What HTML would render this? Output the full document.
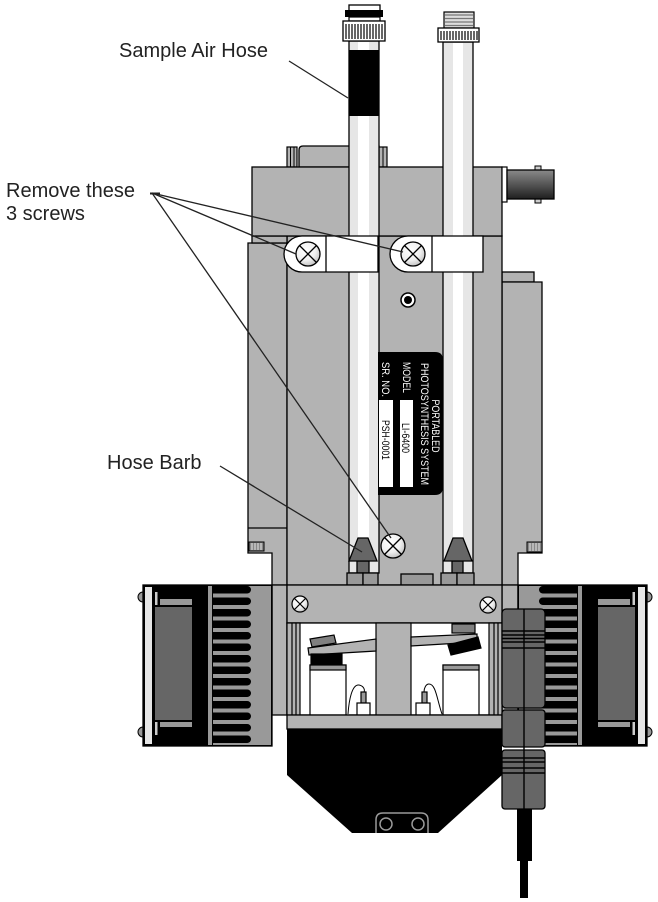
<!DOCTYPE html>
<html><head><meta charset="utf-8">
<style>
html,body{margin:0;padding:0;background:#fff;}
svg{display:block;}
.lbl{font-family:"Liberation Sans",Arial,sans-serif;font-size:20px;fill:#222;}
.pl{font-family:"Liberation Sans",Arial,sans-serif;font-size:11px;}
</style></head><body>
<svg width="658" height="902" viewBox="0 0 658 902" xmlns="http://www.w3.org/2000/svg">
<defs>
<radialGradient id="scr" cx="0.4" cy="0.35" r="0.75">
<stop offset="0" stop-color="#ffffff"/><stop offset="0.55" stop-color="#f0f0f0"/><stop offset="1" stop-color="#b5b5b5"/>
</radialGradient>
<linearGradient id="bnc" x1="0" y1="0" x2="0" y2="1">
<stop offset="0" stop-color="#8a8a8a"/><stop offset="0.5" stop-color="#555"/><stop offset="1" stop-color="#1e1e1e"/>
</linearGradient>
</defs>

<!-- side panels -->
<path d="M248,243 H287 V585 H272 V553 H248 Z" fill="#b3b3b3" stroke="#000" stroke-width="1.3"/>
<line x1="248" y1="528" x2="287" y2="528" stroke="#000" stroke-width="1.3"/>
<rect x="249" y="542" width="15" height="9" fill="#888" stroke="#000" stroke-width="1"/>
<g stroke="#fff" stroke-width="0.8"><line x1="252" y1="543" x2="252" y2="550"/><line x1="255" y1="543" x2="255" y2="550"/><line x1="258" y1="543" x2="258" y2="550"/><line x1="261" y1="543" x2="261" y2="550"/></g>
<rect x="502" y="272" width="32" height="10" fill="#b3b3b3" stroke="#000" stroke-width="1.3"/>
<path d="M502,282 H542 V553 H518 V585 H502 Z" fill="#b3b3b3" stroke="#000" stroke-width="1.3"/>
<rect x="527" y="542" width="15" height="10" fill="#888" stroke="#000" stroke-width="1"/>
<g stroke="#fff" stroke-width="0.8"><line x1="530" y1="543" x2="530" y2="551"/><line x1="533" y1="543" x2="533" y2="551"/><line x1="536" y1="543" x2="536" y2="551"/><line x1="539" y1="543" x2="539" y2="551"/></g>

<!-- main body -->
<rect x="287" y="236" width="215" height="349" fill="#b3b3b3" stroke="#000" stroke-width="1.3"/>
<rect x="252" y="236" width="35" height="7" fill="#b3b3b3" stroke="#000" stroke-width="1.3"/>

<!-- behind top block -->
<path d="M299,167 V150 Q299,146 303,146 H379 V167 Z" fill="#b3b3b3" stroke="#000" stroke-width="1.3"/>
<rect x="287" y="147" width="10" height="20" fill="#b3b3b3" stroke="#000" stroke-width="1.2"/>
<line x1="290.5" y1="147" x2="290.5" y2="167" stroke="#000" stroke-width="1"/>
<line x1="294" y1="147" x2="294" y2="167" stroke="#000" stroke-width="1"/>
<rect x="379" y="147" width="8" height="20" fill="#b3b3b3" stroke="#000" stroke-width="1.2"/>
<line x1="383" y1="147" x2="383" y2="167" stroke="#000" stroke-width="1"/>

<!-- top block -->
<rect x="252" y="167" width="250" height="69" fill="#b3b3b3" stroke="#000" stroke-width="1.3"/>

<!-- BNC -->
<rect x="502" y="167" width="5" height="35" fill="#fff" stroke="#000" stroke-width="1.2"/>
<rect x="535" y="166" width="6" height="4" fill="#ccc" stroke="#000" stroke-width="1"/>
<rect x="535" y="199" width="6" height="4" fill="#ccc" stroke="#000" stroke-width="1"/>
<rect x="507" y="170" width="47" height="29" fill="url(#bnc)" stroke="#000" stroke-width="1.3"/>

<!-- left hose -->
<rect x="349" y="41" width="30" height="532" fill="#e6e6e6" stroke="#000" stroke-width="1.3"/>
<rect x="358" y="42" width="11" height="530" fill="#fff"/>
<rect x="349" y="50" width="30" height="66" fill="#000"/>
<rect x="349" y="5" width="31" height="6" fill="#fff" stroke="#000" stroke-width="1.3"/>
<rect x="345" y="10" width="38" height="7" fill="#000"/>
<rect x="349" y="17" width="31" height="4" fill="#fff" stroke="#000" stroke-width="1.2"/>
<rect x="343" y="21" width="42" height="20" fill="#fff" stroke="#000" stroke-width="1.3"/>
<g stroke="#000" stroke-width="1.2">
<line x1="346" y1="24" x2="346" y2="39"/><line x1="349" y1="24" x2="349" y2="39"/><line x1="352" y1="24" x2="352" y2="39"/><line x1="355" y1="24" x2="355" y2="39"/><line x1="358" y1="24" x2="358" y2="39"/><line x1="361" y1="24" x2="361" y2="39"/><line x1="364" y1="24" x2="364" y2="39"/><line x1="367" y1="24" x2="367" y2="39"/><line x1="370" y1="24" x2="370" y2="39"/><line x1="373" y1="24" x2="373" y2="39"/><line x1="376" y1="24" x2="376" y2="39"/><line x1="379" y1="24" x2="379" y2="39"/><line x1="382" y1="24" x2="382" y2="39"/>
</g>

<!-- right hose -->
<rect x="443" y="42" width="30" height="531" fill="#e6e6e6" stroke="#000" stroke-width="1.3"/>
<rect x="453" y="43" width="10" height="529" fill="#fff"/>
<rect x="444" y="12" width="30" height="16" fill="#ddd" stroke="#000" stroke-width="1.2"/>
<g stroke="#777" stroke-width="1.2"><line x1="445" y1="15" x2="473" y2="15"/><line x1="445" y1="18.5" x2="473" y2="18.5"/><line x1="445" y1="22" x2="473" y2="22"/><line x1="445" y1="25.5" x2="473" y2="25.5"/></g>
<rect x="438" y="28" width="41" height="14" fill="#fff" stroke="#000" stroke-width="1.3"/>
<g stroke="#000" stroke-width="1.2">
<line x1="441" y1="31" x2="441" y2="40"/><line x1="444" y1="31" x2="444" y2="40"/><line x1="447" y1="31" x2="447" y2="40"/><line x1="450" y1="31" x2="450" y2="40"/><line x1="453" y1="31" x2="453" y2="40"/><line x1="456" y1="31" x2="456" y2="40"/><line x1="459" y1="31" x2="459" y2="40"/><line x1="462" y1="31" x2="462" y2="40"/><line x1="465" y1="31" x2="465" y2="40"/><line x1="468" y1="31" x2="468" y2="40"/><line x1="471" y1="31" x2="471" y2="40"/><line x1="474" y1="31" x2="474" y2="40"/><line x1="477" y1="31" x2="477" y2="40"/>
</g>

<!-- clamps -->
<path d="M302,236 H378 V272 H302 A18,18 0 0 1 302,236 Z" fill="#fff" stroke="#000" stroke-width="1.3"/>
<line x1="326" y1="236" x2="326" y2="272" stroke="#000" stroke-width="1.3"/>
<path d="M408,236 H483 V272 H408 A18,18 0 0 1 408,236 Z" fill="#fff" stroke="#000" stroke-width="1.3"/>
<line x1="432" y1="236" x2="432" y2="272" stroke="#000" stroke-width="1.3"/>
<g stroke="#000" stroke-width="1.3">
<circle cx="308" cy="254" r="12" fill="url(#scr)"/>
<line x1="299.5" y1="245.5" x2="316.5" y2="262.5"/><line x1="316.5" y1="245.5" x2="299.5" y2="262.5"/>
<circle cx="413" cy="254" r="12" fill="url(#scr)"/>
<line x1="404.5" y1="245.5" x2="421.5" y2="262.5"/><line x1="421.5" y1="245.5" x2="404.5" y2="262.5"/>
</g>

<!-- center hole -->
<circle cx="408" cy="300" r="7" fill="#fff" stroke="#000" stroke-width="1.5"/>
<circle cx="408" cy="300" r="4" fill="#000"/>

<!-- label plate -->
<path d="M378,352 H435 Q443,352 443,360 V487 Q443,495 435,495 H378 Z" fill="#000"/>
<rect x="400" y="400" width="13" height="87" fill="#fff"/>
<rect x="379" y="400" width="14" height="87" fill="#fff"/>
<text class="pl" fill="#fff" text-anchor="middle" textLength="53" lengthAdjust="spacingAndGlyphs" transform="translate(432,426) rotate(90)">PORTABLED</text>
<text class="pl" fill="#fff" text-anchor="middle" textLength="122" lengthAdjust="spacingAndGlyphs" transform="translate(421,424) rotate(90)">PHOTOSYNTHESIS SYSTEM</text>
<text class="pl" fill="#fff" textLength="31" lengthAdjust="spacingAndGlyphs" transform="translate(403,362) rotate(90)">MODEL</text>
<text class="pl" fill="#fff" textLength="35" lengthAdjust="spacingAndGlyphs" transform="translate(382,362) rotate(90)">SR. NO.</text>
<text class="pl" fill="#000" text-anchor="middle" textLength="30" lengthAdjust="spacingAndGlyphs" transform="translate(402,438) rotate(90)">LI-6400</text>
<text class="pl" fill="#000" text-anchor="middle" textLength="40" lengthAdjust="spacingAndGlyphs" transform="translate(382,440) rotate(90)">PSH-0001</text>

<!-- barbs -->
<g stroke="#000" stroke-width="1.3">
<rect x="357" y="561" width="12" height="12" fill="#666"/>
<polygon points="358,538 368,538 377,561 349,561" fill="#666"/>
<rect x="347" y="573" width="16" height="12" fill="#999"/>
<rect x="363" y="573" width="15" height="12" fill="#999"/>
<rect x="452" y="561" width="11" height="12" fill="#666"/>
<polygon points="453,538 463,538 472,561 444,561" fill="#666"/>
<rect x="441" y="573" width="16" height="12" fill="#999"/>
<rect x="457" y="573" width="17" height="12" fill="#999"/>
<rect x="401" y="574" width="32" height="11" fill="#999"/>
<circle cx="393" cy="546" r="12" fill="url(#scr)"/>
<line x1="384.5" y1="537.5" x2="401.5" y2="554.5"/><line x1="401.5" y1="537.5" x2="384.5" y2="554.5"/>
</g>

<!-- side columns & bar -->
<rect x="272" y="585" width="15" height="130" fill="#b3b3b3" stroke="#000" stroke-width="1.3"/>
<rect x="502" y="585" width="16" height="130" fill="#b3b3b3" stroke="#000" stroke-width="1.3"/>
<rect x="287" y="585" width="215" height="38" fill="#b3b3b3" stroke="#000" stroke-width="1.3"/>
<g stroke="#000" stroke-width="1.2">
<circle cx="300" cy="604" r="8" fill="url(#scr)"/>
<line x1="294.5" y1="598.5" x2="305.5" y2="609.5"/><line x1="305.5" y1="598.5" x2="294.5" y2="609.5"/>
<circle cx="488" cy="605" r="8" fill="url(#scr)"/>
<line x1="482.5" y1="599.5" x2="493.5" y2="610.5"/><line x1="493.5" y1="599.5" x2="482.5" y2="610.5"/>
</g>

<!-- chamber -->
<rect x="287" y="623" width="215" height="92" fill="#fff" stroke="#000" stroke-width="1.3"/>
<g stroke="#000" stroke-width="1.2">
<rect x="287" y="623" width="13" height="92" fill="#b3b3b3"/>
<line x1="292" y1="623" x2="292" y2="715"/><line x1="296" y1="623" x2="296" y2="715"/>
<rect x="489" y="623" width="13" height="92" fill="#b3b3b3"/>
<line x1="494" y1="623" x2="494" y2="715"/><line x1="498" y1="623" x2="498" y2="715"/>
<rect x="376" y="623" width="35" height="92" fill="#b3b3b3"/>
<polygon points="308,648 376,639 376,651 309,655" fill="#b3b3b3"/>
<polygon points="310,639 334,635 336,643 312,647" fill="#808080"/>
<rect x="311" y="654" width="31" height="11" fill="#000"/>
<rect x="310" y="665" width="36" height="50" fill="#fff"/>
<rect x="310" y="665" width="36" height="5" fill="#999"/>
<rect x="361" y="692" width="5" height="11" fill="#999"/>
<rect x="357" y="703" width="13" height="12" fill="#fff"/>
<path d="M348,714 C349,700 352,684 359,685 C364,686 365,690 364,692" fill="none" stroke-width="1"/>
<rect x="452" y="624" width="23" height="9" fill="#808080"/>
<polygon points="411,637 477,634 477,642 411,646" fill="#b3b3b3"/>
<polygon points="448,645 478,637 481,648 451,655" fill="#000"/>
<rect x="443" y="665" width="36" height="50" fill="#fff"/>
<rect x="443" y="665" width="36" height="5" fill="#999"/>
<rect x="422" y="692" width="5" height="11" fill="#999"/>
<rect x="416" y="703" width="14" height="12" fill="#fff"/>
<path d="M424,692 C424,688 426,684 429,684 C436,684 437,700 442,714" fill="none" stroke-width="1"/>
</g>

<!-- bottom -->
<rect x="287" y="715" width="215" height="14" fill="#b3b3b3" stroke="#000" stroke-width="1.3"/>
<polygon points="287,729 502,729 502,775 438,833 352,833 287,775" fill="#000"/>
<path d="M376,833 V820 Q376,813 383,813 H421 Q428,813 428,820 V833" fill="none" stroke="#999" stroke-width="1.5"/>
<circle cx="386" cy="824" r="6" fill="none" stroke="#999" stroke-width="1.5"/>
<circle cx="418" cy="824" r="6" fill="none" stroke="#999" stroke-width="1.5"/>

<!-- left heat sink -->
<g id="hs">
<circle cx="143" cy="597" r="5" fill="#999" stroke="#000" stroke-width="1"/>
<circle cx="143" cy="732" r="5" fill="#999" stroke="#000" stroke-width="1"/>
<rect x="143" y="585" width="129" height="161" fill="#000" stroke="#000" stroke-width="1.3"/>
<rect x="145" y="587" width="7" height="157" fill="#e6e6e6"/>
<rect x="155" y="592" width="2.5" height="13" fill="#ccc"/>
<rect x="155" y="722" width="2.5" height="13" fill="#ccc"/>
<rect x="155" y="607" width="37" height="113" fill="#666"/>
<rect x="160" y="599" width="32" height="6" fill="#999"/>
<rect x="160" y="722" width="32" height="5" fill="#999"/>
<rect x="213" y="586" width="58" height="159" fill="#999"/>
<g fill="#000">
<rect x="200" y="586" width="51" height="7.5" rx="3.7"/>
<rect x="200" y="597.5" width="51" height="7.5" rx="3.7"/>
<rect x="200" y="609" width="51" height="7.5" rx="3.7"/>
<rect x="200" y="620.5" width="51" height="7.5" rx="3.7"/>
<rect x="200" y="632" width="51" height="7.5" rx="3.7"/>
<rect x="200" y="643.5" width="51" height="7.5" rx="3.7"/>
<rect x="200" y="655" width="51" height="7.5" rx="3.7"/>
<rect x="200" y="666.5" width="51" height="7.5" rx="3.7"/>
<rect x="200" y="678" width="51" height="7.5" rx="3.7"/>
<rect x="200" y="689.5" width="51" height="7.5" rx="3.7"/>
<rect x="200" y="701" width="51" height="7.5" rx="3.7"/>
<rect x="200" y="712.5" width="51" height="7.5" rx="3.7"/>
<rect x="200" y="724" width="51" height="7.5" rx="3.7"/>
<rect x="200" y="735.5" width="51" height="7.5" rx="3.7"/>
</g>
<rect x="208" y="586" width="4" height="159" fill="#999"/>
</g>

<!-- right heat sink (mirror) -->
<g transform="matrix(-1 0 0 1 790 0)">
<circle cx="143" cy="597" r="5" fill="#999" stroke="#000" stroke-width="1"/>
<circle cx="143" cy="732" r="5" fill="#999" stroke="#000" stroke-width="1"/>
<rect x="143" y="585" width="129" height="161" fill="#000" stroke="#000" stroke-width="1.3"/>
<rect x="145" y="587" width="7" height="157" fill="#e6e6e6"/>
<rect x="155" y="592" width="2.5" height="13" fill="#ccc"/>
<rect x="155" y="722" width="2.5" height="13" fill="#ccc"/>
<rect x="155" y="607" width="37" height="113" fill="#666"/>
<rect x="160" y="599" width="32" height="6" fill="#999"/>
<rect x="160" y="722" width="32" height="5" fill="#999"/>
<rect x="213" y="586" width="58" height="159" fill="#999"/>
<g fill="#000">
<rect x="200" y="586" width="51" height="7.5" rx="3.7"/>
<rect x="200" y="597.5" width="51" height="7.5" rx="3.7"/>
<rect x="200" y="609" width="51" height="7.5" rx="3.7"/>
<rect x="200" y="620.5" width="51" height="7.5" rx="3.7"/>
<rect x="200" y="632" width="51" height="7.5" rx="3.7"/>
<rect x="200" y="643.5" width="51" height="7.5" rx="3.7"/>
<rect x="200" y="655" width="51" height="7.5" rx="3.7"/>
<rect x="200" y="666.5" width="51" height="7.5" rx="3.7"/>
<rect x="200" y="678" width="51" height="7.5" rx="3.7"/>
<rect x="200" y="689.5" width="51" height="7.5" rx="3.7"/>
<rect x="200" y="701" width="51" height="7.5" rx="3.7"/>
<rect x="200" y="712.5" width="51" height="7.5" rx="3.7"/>
<rect x="200" y="724" width="51" height="7.5" rx="3.7"/>
<rect x="200" y="735.5" width="51" height="7.5" rx="3.7"/>
</g>
<rect x="208" y="586" width="4" height="159" fill="#999"/>
</g>

<!-- right connector & cable -->
<g fill="#666" stroke="#000" stroke-width="1.3">
<rect x="502" y="609" width="43" height="99" rx="4"/>
<rect x="502" y="710" width="43" height="37" rx="3"/>
<rect x="502" y="750" width="43" height="59" rx="3"/>
</g>
<g stroke="#000" stroke-width="1.4">
<line x1="524" y1="609" x2="524" y2="809"/>
<line x1="502" y1="631" x2="545" y2="631"/><line x1="502" y1="635" x2="545" y2="635"/><line x1="502" y1="638.5" x2="545" y2="638.5"/><line x1="502" y1="642" x2="545" y2="642"/><line x1="502" y1="648" x2="545" y2="648"/>
<line x1="502" y1="758" x2="545" y2="758"/><line x1="502" y1="762" x2="545" y2="762"/><line x1="502" y1="768" x2="545" y2="768"/><line x1="502" y1="773" x2="545" y2="773"/>
</g>
<rect x="517" y="809" width="15" height="52" fill="#000"/>
<rect x="520" y="860" width="8" height="38" fill="#000"/>

<!-- leader lines -->
<g stroke="#222" stroke-width="1.3" fill="none">
<line x1="289" y1="61" x2="348" y2="98"/>
<line x1="152" y1="193" x2="403" y2="252"/>
<line x1="152" y1="193" x2="296" y2="254"/>
<line x1="152" y1="193" x2="391" y2="538"/>
<line x1="220" y1="466" x2="362" y2="552"/>
<line x1="150" y1="193.5" x2="160" y2="193.5" stroke-width="2"/>
</g>

<!-- labels -->
<text class="lbl" x="119" y="57">Sample Air Hose</text>
<text class="lbl" x="6" y="197">Remove these</text>
<text class="lbl" x="6" y="220">3 screws</text>
<text class="lbl" x="107" y="469">Hose Barb</text>
</svg>
</body></html>
